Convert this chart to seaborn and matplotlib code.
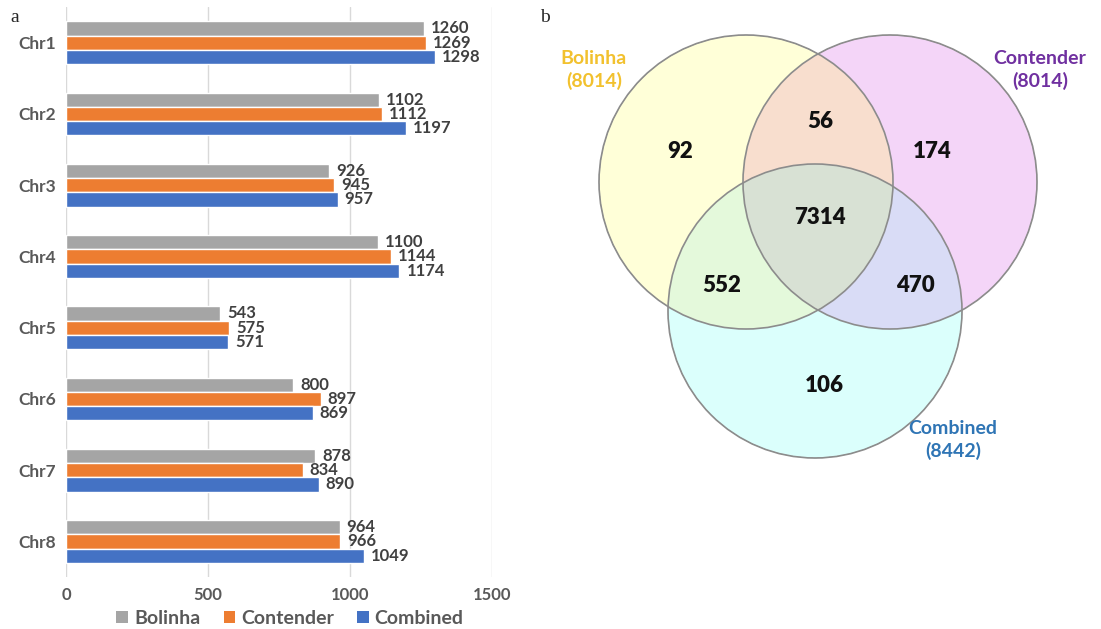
import numpy as np
import pandas as pd
import matplotlib
matplotlib.use("Agg")
import matplotlib.pyplot as plt
from matplotlib.patches import Circle, Patch
import seaborn as sns

# ---- data -------------------------------------------------------------
chromosomes = ["Chr1", "Chr2", "Chr3", "Chr4", "Chr5", "Chr6", "Chr7", "Chr8"]
bolinha = [1260, 1102, 926, 1100, 543, 800, 878, 964]
contender = [1269, 1112, 945, 1144, 575, 897, 834, 966]
combined = [1298, 1197, 957, 1174, 571, 869, 890, 1049]
groups = ["Bolinha", "Contender", "Combined"]
x_ticks = [0, 500, 1000, 1500]

# Venn region counts
only_bolinha = 92
only_contender = 174
only_combined = 106
bolinha_contender = 56
bolinha_combined = 552
contender_combined = 470
all_three = 7314
set_totals = [8014, 8014, 8442]

# ---- style ------------------------------------------------------------
sns.set_theme(style="white")
plt.rcParams["font.family"] = ["Lato", "DejaVu Sans"]

bar_colors = ["#A5A5A5", "#ED7D31", "#4472C4"]
grey_text = "#595959"

df = pd.DataFrame({
    "chrom": chromosomes * 3,
    "count": bolinha + contender + combined,
    "group": [g for g in groups for _ in chromosomes],
})

fig = plt.figure(figsize=(11.01, 6.29), dpi=100)

# ---- panel a: grouped horizontal bars ----------------------------------
ax = fig.add_axes([66 / 1101, 1 - 577 / 629, 426 / 1101, 570 / 629])
sns.barplot(data=df, x="count", y="chrom", hue="group", hue_order=groups,
            order=chromosomes, palette=bar_colors, orient="h", width=0.6,
            gap=0, dodge=True, saturation=1, ax=ax, legend=False)

for cont in ax.containers:
    ax.bar_label(cont, fmt="%d", padding=5, fontsize=12, fontweight="bold",
                 color="#404040")

ax.set_xlim(0, 1500)
ax.set_xticks(x_ticks)
ax.set_xticklabels([str(t) for t in x_ticks])
ax.grid(axis="x", color="#D9D9D9", linewidth=1)
ax.grid(axis="y", visible=False)
ax.set_axisbelow(True)
for s in ax.spines.values():
    s.set_visible(False)
ax.set_xlabel("")
ax.set_ylabel("")
ax.tick_params(axis="x", length=0, pad=7, labelsize=12, labelcolor=grey_text)
ax.tick_params(axis="y", length=0, pad=7, labelsize=12.5, labelcolor=grey_text)
for lab in ax.get_xticklabels() + ax.get_yticklabels():
    lab.set_fontweight("bold")

handles = [Patch(facecolor=c, edgecolor="none") for c in bar_colors]
leg = ax.legend(handles, groups, loc="center", bbox_to_anchor=(0.526, -0.072),
                ncol=3, frameon=False, handlelength=0.6, handleheight=0.6,
                handletextpad=0.3, columnspacing=1.2, fontsize=14)
for t in leg.get_texts():
    t.set_color(grey_text)
    t.set_fontweight("bold")

# ---- panel b: three-set Venn diagram ----------------------------------
vx = fig.add_axes([520 / 1101, 0, 581 / 1101, 1])
vx.axis("off")

r = 147
centers = [(746, 182), (890, 182), (815, 311)]

region_colors = {
    (1, 0, 0): "#FFFFD9",
    (0, 1, 0): "#F5D5F8",
    (0, 0, 1): "#DBFFFC",
    (1, 1, 0): "#F8DECF",
    (1, 0, 1): "#E5F9DB",
    (0, 1, 1): "#DADCF6",
    (1, 1, 1): "#D9E2D4",
}

res = 3
gx = np.linspace(580, 1060, 480 * res)
gy = np.linspace(20, 480, 460 * res)
XX, YY = np.meshgrid(gx, gy)
masks = [((XX - cx) ** 2 + (YY - cy) ** 2) <= r ** 2 for cx, cy in centers]
img = np.zeros(XX.shape + (4,))
for key, col in region_colors.items():
    m = np.ones(XX.shape, bool)
    for inside, mk in zip(key, masks):
        m &= mk if inside else ~mk
    img[m] = matplotlib.colors.to_rgba(col)
vx.imshow(img, extent=(gx[0], gx[-1], gy[-1], gy[0]), origin="upper",
          interpolation="antialiased", zorder=1, aspect="auto")
vx.set_xlim(520, 1101)
vx.set_ylim(629, 0)

for cx, cy in centers:
    vx.add_patch(Circle((cx, cy), r, fill=False, edgecolor="#8C8C8C",
                        linewidth=1.2, zorder=2))

counts = [
    (680, 152, only_bolinha),
    (820, 121, bolinha_contender),
    (932, 152, only_contender),
    (820, 218, all_three),
    (722, 285, bolinha_combined),
    (915, 285, contender_combined),
    (824, 386, only_combined),
]
for x, y, v in counts:
    vx.text(x, y, str(v), ha="center", va="center", fontsize=16,
            fontweight="heavy", color="#111111", zorder=3)

set_labels = [
    (594, 70, groups[0], set_totals[0], "#F2C12E"),
    (1040, 70, groups[1], set_totals[1], "#7030A0"),
    (953, 440, groups[2], set_totals[2], "#2F75B5"),
]
for x, y, name, total, col in set_labels:
    vx.text(x, y, f"{name}\n({total})", ha="center", va="center",
            fontsize=14, fontweight="bold", color=col, linespacing=1.3,
            zorder=3)

# panel letters
fig.text(10 / 1101, 1 - 18 / 629, "a", fontsize=14, va="center",
         family="Liberation Serif")
fig.text(540 / 1101, 1 - 18 / 629, "b", fontsize=14, va="center",
         family="Liberation Serif")

fig.savefig("out.png", dpi=100, facecolor="white")
